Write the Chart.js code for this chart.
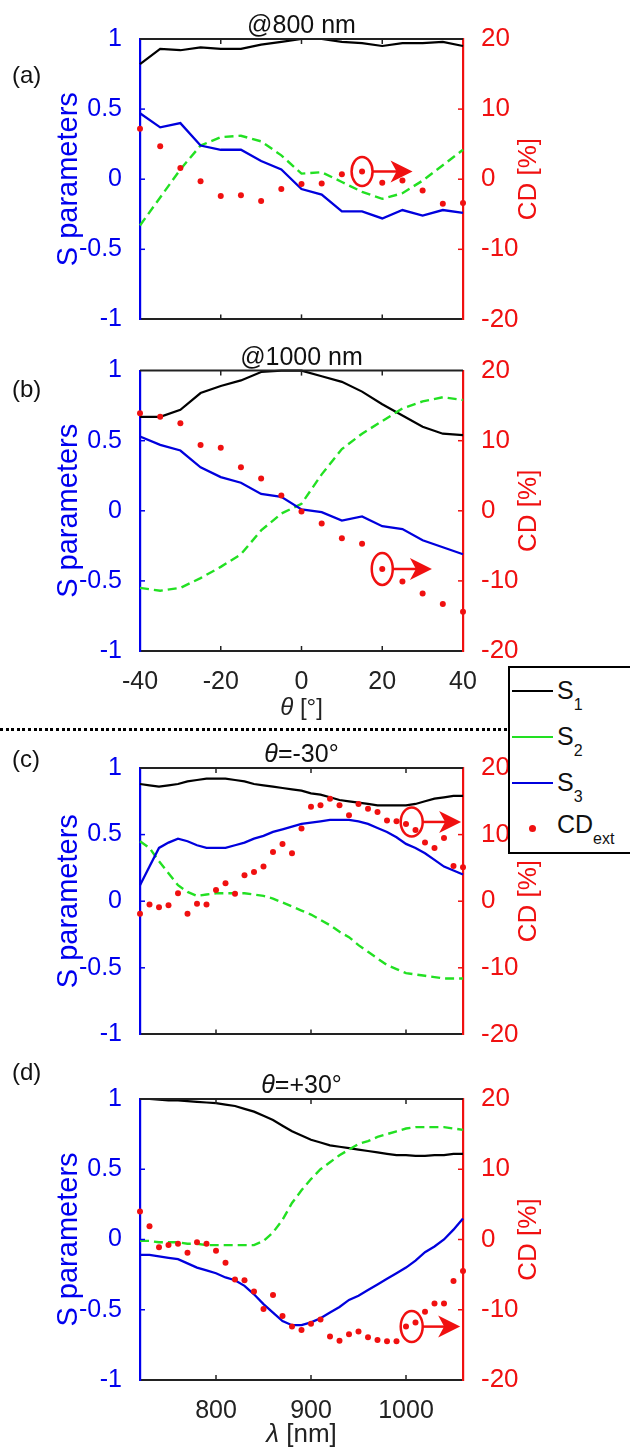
<!DOCTYPE html>
<html>
<head>
<meta charset="utf-8">
<title>S parameters and CD</title>
<script src="https://cdn.jsdelivr.net/npm/chart.js@4.4.1/dist/chart.umd.min.js"></script>
<style>
  body { margin: 0; width: 630px; height: 1450px; position: relative; overflow: hidden; background: #fff;
         font-family: "Liberation Sans", Arial, sans-serif; color: #111; }
  canvas { position: absolute; left: 0; }
  #sep { position: absolute; left: 0; top: 728px; width: 508px; height: 3px;
         background: repeating-linear-gradient(90deg, #000 0 3px, transparent 3px 5.6px); }
  #legend { position: absolute; left: 508px; top: 666px; width: 140px; height: 188px;
            border: 2.5px solid #000; background: #fff; box-sizing: border-box; }
  .sw { position: absolute; left: 512px; width: 41px; height: 2px; }
  .lt { position: absolute; left: 557px; font-size: 25px; line-height: 24px; white-space: nowrap; color: #111; }
  .lt sub { font-size: 16px; line-height: 0; vertical-align: -11px; }
  .dot { position: absolute; width: 7px; height: 7px; border-radius: 50%; background: #f01010; }
</style>
</head>
<body>
<canvas id="panelA" width="630" height="345" style="top:0px"></canvas>
<canvas id="panelB" width="630" height="383" style="top:345px"></canvas>
<canvas id="panelC" width="630" height="332" style="top:728px"></canvas>
<canvas id="panelD" width="630" height="390" style="top:1060px"></canvas>

<div id="sep"></div>
<div id="legend"></div>
<div class="sw" style="top:690px;background:#000"></div>
<div class="lt" style="top:678px">S<sub>1</sub></div>
<div class="sw" style="top:736px;background:#22e022"></div>
<div class="lt" style="top:724px">S<sub>2</sub></div>
<div class="sw" style="top:782px;background:#0000dd"></div>
<div class="lt" style="top:770px">S<sub>3</sub></div>
<div class="dot" style="left:529px;top:825px"></div>
<div class="lt" style="top:812px">CD<sub>ext</sub></div>

<script>
// ============================================
// DATA
// ============================================
const thetaDeg = [-40, -35, -30, -25, -20, -15, -10, -5, 0, 5, 10, 15, 20, 25, 30, 35, 40];
const lambdaNm = [720, 730, 740, 750, 760, 770, 780, 790, 800, 810, 820, 830, 840, 850, 860, 870, 880,
                  890, 900, 910, 920, 930, 940, 950, 960, 970, 980, 990, 1000, 1010, 1020, 1030, 1040, 1050, 1060];

const thetaTicks = [-40, -20, 0, 20, 40];
const lambdaTicks = [800, 900, 1000];
const sTicks = [-1, -0.5, 0, 0.5, 1];
const cdTicks = [-20, -10, 0, 10, 20];

// (a) @800 nm, versus theta
const s1At800 = [0.82, 0.93, 0.92, 0.94, 0.93, 0.93, 0.96, 0.98, 1.00, 1.00, 0.98, 0.97, 0.95, 0.97, 0.97, 0.98, 0.95];
const s2At800 = [-0.33, -0.13, 0.07, 0.24, 0.30, 0.31, 0.27, 0.17, 0.04, 0.05, -0.02, -0.09, -0.14, -0.10, -0.01, 0.10, 0.21];
const s3At800 = [0.47, 0.37, 0.40, 0.24, 0.21, 0.21, 0.13, 0.07, -0.07, -0.11, -0.23, -0.23, -0.28, -0.22, -0.26, -0.22, -0.24];
const cdAt800 = [7.2, 4.7, 1.6, -0.3, -2.4, -2.3, -3.1, -1.4, -0.7, -0.6, 0.7, 1.1, -0.5, -0.2, -1.6, -3.5, -3.4];

// (b) @1000 nm, versus theta
const s1At1000 = [0.67, 0.67, 0.72, 0.84, 0.89, 0.93, 0.99, 1.00, 1.00, 0.96, 0.92, 0.85, 0.76, 0.68, 0.60, 0.55, 0.54];
const s2At1000 = [-0.55, -0.57, -0.55, -0.48, -0.40, -0.31, -0.14, -0.02, 0.05, 0.26, 0.44, 0.55, 0.64, 0.73, 0.78, 0.81, 0.79];
const s3At1000 = [0.53, 0.47, 0.43, 0.31, 0.24, 0.20, 0.12, 0.10, 0.01, -0.01, -0.07, -0.04, -0.11, -0.13, -0.21, -0.26, -0.31];
const cdAt1000 = [13.9, 13.4, 12.5, 9.4, 9.0, 6.2, 4.6, 2.2, -0.1, -1.8, -3.9, -4.7, -8.3, -10.1, -11.8, -13.3, -14.4];

// (c) theta = -30 deg, versus wavelength
const s1Minus30 = [0.88, 0.87, 0.86, 0.87, 0.88, 0.90, 0.91, 0.92, 0.92, 0.92, 0.91, 0.90, 0.88, 0.87, 0.86, 0.85, 0.84, 0.83,
                   0.81, 0.80, 0.78, 0.76, 0.75, 0.74, 0.73, 0.72, 0.72, 0.72, 0.72, 0.73, 0.75, 0.77, 0.78, 0.79, 0.79];
const s2Minus30 = [0.45, 0.40, 0.30, 0.21, 0.12, 0.07, 0.04, 0.05, 0.06, 0.06, 0.06, 0.06, 0.05, 0.04, 0.02, -0.01, -0.04, -0.07,
                   -0.10, -0.14, -0.18, -0.23, -0.27, -0.33, -0.38, -0.43, -0.48, -0.51, -0.54, -0.55, -0.56, -0.57, -0.58, -0.58, -0.58];
const s3Minus30 = [0.12, 0.26, 0.40, 0.44, 0.47, 0.45, 0.42, 0.40, 0.40, 0.40, 0.42, 0.44, 0.47, 0.49, 0.52, 0.54, 0.56, 0.58,
                   0.59, 0.60, 0.61, 0.61, 0.61, 0.60, 0.58, 0.55, 0.52, 0.48, 0.43, 0.40, 0.36, 0.31, 0.26, 0.23, 0.20];
const cdMinus30 = [-1.9, -0.5, -0.9, -0.6, 1.2, -1.9, -0.4, -0.5, 1.7, 2.7, 1.1, 3.9, 4.4, 5.2, 7.4, 8.6, 7.2, 10.9,
                   14.2, 14.4, 15.4, 14.4, 12.9, 14.6, 13.9, 13.4, 12.1, 12.0, 11.6, 10.7, 8.8, 8.0, 9.5, 5.3, 5.1];

// (d) theta = +30 deg, versus wavelength
const s1Plus30 = [1.00, 1.00, 0.995, 0.99, 0.99, 0.985, 0.98, 0.975, 0.97, 0.96, 0.95, 0.93, 0.91, 0.88, 0.85, 0.81, 0.77, 0.74,
                  0.71, 0.69, 0.67, 0.66, 0.65, 0.64, 0.63, 0.62, 0.61, 0.60, 0.60, 0.595, 0.595, 0.60, 0.60, 0.61, 0.61];
const s2Plus30 = [-0.01, -0.01, -0.02, -0.02, -0.02, -0.03, -0.03, -0.04, -0.04, -0.04, -0.04, -0.04, -0.04, -0.01, 0.05, 0.14, 0.26, 0.35,
                  0.43, 0.50, 0.55, 0.60, 0.64, 0.68, 0.70, 0.73, 0.75, 0.77, 0.79, 0.80, 0.80, 0.80, 0.80, 0.79, 0.78];
const s3Plus30 = [-0.11, -0.11, -0.12, -0.13, -0.14, -0.17, -0.20, -0.22, -0.24, -0.27, -0.29, -0.33, -0.39, -0.46, -0.52, -0.58, -0.61, -0.61,
                  -0.59, -0.56, -0.52, -0.48, -0.43, -0.40, -0.36, -0.32, -0.28, -0.24, -0.20, -0.15, -0.09, -0.05, 0.00, 0.07, 0.15];
const cdPlus30 = [4.0, 1.9, -1.1, -0.8, -0.6, -1.9, -0.4, -0.6, -1.6, -3.3, -5.7, -5.8, -7.4, -9.9, -7.9, -10.9, -12.4, -12.9,
                  -12.0, -11.4, -13.8, -14.4, -13.5, -13.1, -13.9, -14.3, -14.5, -14.5, -12.4, -11.8, -10.3, -9.1, -9.1, -5.9, -4.5];

// ============================================
// STYLE
// ============================================
const FONT = '"Liberation Sans", Arial, sans-serif';
const BLACK = '#000000';
const GREEN = '#22e022';
const BLUE = '#0000dd';
const RED = '#f01010';
const AXIS_BLUE = '#0000ee';
const AXIS_GREY = '#222222';

function toPoints(xs, ys) {
  return xs.map(function(x, i) { return {x: x, y: ys[i]}; });
}

// draw a run of text pieces (some italic) centred on cx
function drawRich(ctx, parts, cx, y, size) {
  let total = 0;
  parts.forEach(function(p) {
    ctx.font = (p.italic ? 'italic ' : '') + size + 'px ' + FONT;
    p.w = ctx.measureText(p.text).width;
    total += p.w;
  });
  let x = cx - total / 2;
  ctx.textAlign = 'left';
  parts.forEach(function(p) {
    ctx.font = (p.italic ? 'italic ' : '') + size + 'px ' + FONT;
    ctx.fillText(p.text, x, y);
    x += p.w;
  });
}

// ============================================
// PLUGINS
// ============================================
// MATLAB-like frame: top edge and ticks pointing into the plot
const boxTicks = {
  id: 'boxTicks',
  afterDraw(chart) {
    const {ctx, chartArea: a, scales} = chart;
    ctx.save();
    ctx.lineWidth = 2;
    ctx.strokeStyle = AXIS_GREY;
    ctx.beginPath();
    ctx.moveTo(a.left, a.top);
    ctx.lineTo(a.right, a.top);
    ctx.stroke();

    const seg = function(x1, y1, x2, y2) {
      ctx.beginPath(); ctx.moveTo(x1, y1); ctx.lineTo(x2, y2); ctx.stroke();
    };
    ctx.lineWidth = 1.5;
    scales.x.ticks.forEach(function(t) {
      const px = scales.x.getPixelForValue(t.value);
      if (px <= a.left + 1 || px >= a.right - 1) return;
      seg(px, a.bottom, px, a.bottom - 5);
      seg(px, a.top, px, a.top + 5);
    });
    ctx.strokeStyle = AXIS_BLUE;
    scales.y.ticks.forEach(function(t) {
      const py = scales.y.getPixelForValue(t.value);
      if (py <= a.top + 1 || py >= a.bottom - 1) return;
      seg(a.left, py, a.left + 5, py);
    });
    ctx.strokeStyle = RED;
    scales.y1.ticks.forEach(function(t) {
      const py = scales.y1.getPixelForValue(t.value);
      if (py <= a.top + 1 || py >= a.bottom - 1) return;
      seg(a.right, py, a.right - 5, py);
    });
    ctx.restore();
  }
};

// circled point with arrow pointing to the CD axis
const cdMarker = {
  id: 'cdMarker',
  afterDatasetsDraw(chart, args, o) {
    if (!o || o.x === undefined) return;
    const {ctx, scales} = chart;
    const cx = scales.x.getPixelForValue(o.x);
    const cy = scales.y1.getPixelForValue(o.cd);
    const tip = scales.x.getPixelForValue(o.tipX);
    ctx.save();
    ctx.strokeStyle = RED;
    ctx.fillStyle = RED;
    ctx.lineWidth = 2.5;
    ctx.beginPath();
    ctx.ellipse(cx, cy, o.rx, o.ry, 0, 0, 2 * Math.PI);
    ctx.stroke();
    ctx.beginPath();
    ctx.moveTo(cx + o.rx, cy);
    ctx.lineTo(tip - 14, cy);
    ctx.stroke();
    ctx.beginPath();
    ctx.moveTo(tip, cy);
    ctx.lineTo(tip - 22, cy - 11);
    ctx.lineTo(tip - 16, cy);
    ctx.lineTo(tip - 22, cy + 11);
    ctx.closePath();
    ctx.fill();
    ctx.restore();
  }
};

// titles, panel letters and axis names
const panelText = {
  id: 'panelText',
  afterDraw(chart, args, o) {
    const {ctx, chartArea: a} = chart;
    const cx = (a.left + a.right) / 2;
    const cy = (a.top + a.bottom) / 2;
    ctx.save();
    ctx.textBaseline = 'alphabetic';
    ctx.fillStyle = '#111';
    drawRich(ctx, o.title, cx, a.top - 6, 25);

    ctx.textAlign = 'left';
    ctx.font = '24px ' + FONT;
    ctx.fillText(o.letter, 12, o.letterY);

    if (o.xTitle) {
      ctx.fillStyle = '#222';
      drawRich(ctx, o.xTitle, cx, a.bottom + o.xTitleGap, o.xTitleSize);
    }

    ctx.textAlign = 'center';
    ctx.textBaseline = 'middle';
    ctx.save();
    ctx.translate(69, cy);
    ctx.rotate(-Math.PI / 2);
    ctx.fillStyle = AXIS_BLUE;
    ctx.font = '29px ' + FONT;
    ctx.fillText('S parameters', 0, 0);
    ctx.restore();

    ctx.save();
    ctx.translate(529, cy);
    ctx.rotate(-Math.PI / 2);
    ctx.fillStyle = RED;
    ctx.font = '26px ' + FONT;
    ctx.fillText('CD [%]', 0, 0);
    ctx.restore();
    ctx.restore();
  }
};

// ============================================
// PANELS
// ============================================
function makePanel(canvasId, p) {
  const tickFont = {family: FONT, size: 25};
  return new Chart(document.getElementById(canvasId), {
    type: 'line',
    data: {
      datasets: [
        {label: 'CD_ext', data: toPoints(p.xs, p.cd), yAxisID: 'y1', showLine: false,
         pointRadius: 3, pointHoverRadius: 3, pointBackgroundColor: RED, pointBorderWidth: 0, clip: false, order: 0},
        {label: 'S3', data: toPoints(p.xs, p.s3), yAxisID: 'y', borderColor: BLUE, borderWidth: 2.3,
         pointRadius: 0, tension: 0, clip: false, order: 1},
        {label: 'S2', data: toPoints(p.xs, p.s2), yAxisID: 'y', borderColor: GREEN, borderWidth: 2.4,
         borderDash: [9, 5], pointRadius: 0, tension: 0, clip: false, order: 2},
        {label: 'S1', data: toPoints(p.xs, p.s1), yAxisID: 'y', borderColor: BLACK, borderWidth: 2.2,
         pointRadius: 0, tension: 0, clip: false, order: 3}
      ]
    },
    options: {
      responsive: false,
      animation: false,
      events: [],
      layout: {padding: {top: p.padTop, bottom: 0, left: 0, right: 0}},
      plugins: {
        legend: {display: false},
        tooltip: {enabled: false},
        cdMarker: p.marker,
        panelText: p.text
      },
      scales: {
        x: {
          type: 'linear', min: p.xMin, max: p.xMax,
          afterBuildTicks: function(s) { s.ticks = p.xTicks.map(function(v) { return {value: v}; }); },
          afterFit: function(s) { s.height = p.xHeight; },
          ticks: {display: p.showXLabels, color: AXIS_GREY, font: tickFont, padding: 8,
                  maxRotation: 0, autoSkip: false, callback: function(v) { return String(v); }},
          grid: {display: false},
          border: {display: true, color: AXIS_GREY, width: 2}
        },
        y: {
          position: 'left', min: -1, max: 1,
          afterBuildTicks: function(s) { s.ticks = sTicks.map(function(v) { return {value: v}; }); },
          afterFit: function(s) { s.width = 140; },
          ticks: {color: AXIS_BLUE, font: tickFont, padding: 10, callback: function(v) { return String(v); }},
          grid: {display: false},
          border: {display: true, color: AXIS_BLUE, width: 2.2}
        },
        y1: {
          position: 'right', min: -20, max: 20,
          afterBuildTicks: function(s) { s.ticks = cdTicks.map(function(v) { return {value: v}; }); },
          afterFit: function(s) { s.width = 167; },
          ticks: {color: RED, font: {family: FONT, size: 26}, padding: 10, callback: function(v) { return String(v); }},
          grid: {display: false},
          border: {display: true, color: RED, width: 2.2}
        }
      }
    },
    plugins: [boxTicks, cdMarker, panelText]
  });
}

const thetaTitle = [{text: 'θ', italic: true}, {text: ' [°]'}];
const lambdaTitle = [{text: 'λ', italic: true}, {text: ' [nm]'}];

makePanel('panelA', {
  xs: thetaDeg, s1: s1At800, s2: s2At800, s3: s3At800, cd: cdAt800,
  xMin: -40, xMax: 40, xTicks: thetaTicks, showXLabels: false, padTop: 39, xHeight: 24,
  marker: {x: 15, cd: 1.1, tipX: 27.5, rx: 10.5, ry: 14.5},
  text: {title: [{text: '@800 nm'}], letter: '(a)', letterY: 83}
});

makePanel('panelB', {
  xs: thetaDeg, s1: s1At1000, s2: s2At1000, s3: s3At1000, cd: cdAt1000,
  xMin: -40, xMax: 40, xTicks: thetaTicks, showXLabels: true, padTop: 24, xHeight: 77,
  marker: {x: 20, cd: -8.3, tipX: 32.3, rx: 10.5, ry: 16},
  text: {title: [{text: '@1000 nm'}], letter: '(b)', letterY: 52,
         xTitle: thetaTitle, xTitleGap: 64, xTitleSize: 24}
});

makePanel('panelC', {
  xs: lambdaNm, s1: s1Minus30, s2: s2Minus30, s3: s3Minus30, cd: cdMinus30,
  xMin: 720, xMax: 1060, xTicks: lambdaTicks, showXLabels: false, padTop: 40, xHeight: 9,
  marker: {x: 1006, cd: 11.9, tipX: 1058, rx: 11, ry: 14.5},
  text: {title: [{text: 'θ', italic: true}, {text: '=-30°'}], letter: '(c)', letterY: 39}
});

makePanel('panelD', {
  xs: lambdaNm, s1: s1Plus30, s2: s2Plus30, s3: s3Plus30, cd: cdPlus30,
  xMin: 720, xMax: 1060, xTicks: lambdaTicks, showXLabels: true, padTop: 39, xHeight: 70,
  marker: {x: 1006, cd: -12.4, tipX: 1057, rx: 11, ry: 15.5},
  text: {title: [{text: 'θ', italic: true}, {text: '=+30°'}], letter: '(d)', letterY: 20,
         xTitle: lambdaTitle, xTitleGap: 62, xTitleSize: 26}
});
</script>
</body>
</html>
